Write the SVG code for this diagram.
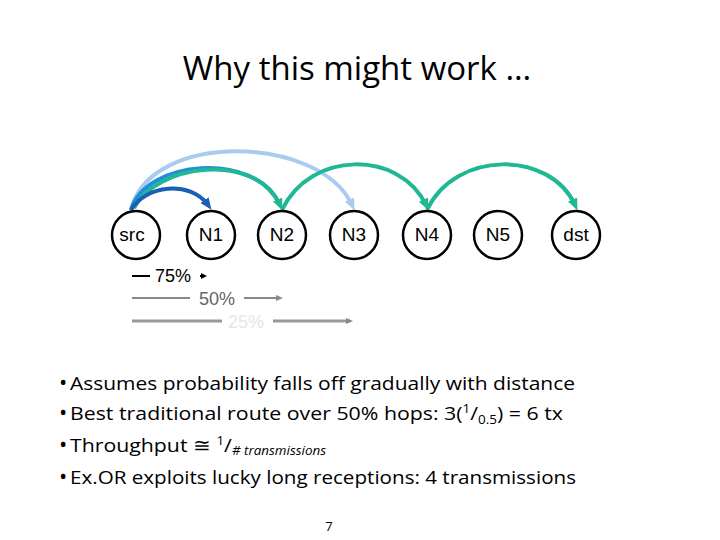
<svg xmlns="http://www.w3.org/2000/svg" width="720" height="540" viewBox="0 0 720 540">
<defs>
<style>
.n{fill:#fff;stroke:#000;stroke-width:2.5}
.nt{font-family:"Liberation Sans",Arial,sans-serif;font-size:19px;text-anchor:middle;fill:#000}
.b{font-family:"Open Sans","Noto Sans",sans-serif;font-size:19px;fill:#000}
.arc{fill:none;stroke-width:4}
</style>
<marker id="mdb" markerUnits="userSpaceOnUse" markerWidth="12" markerHeight="12" refX="6" refY="6" orient="auto"><path d="M0,1L12,6L0,11z" fill="#1a5fb4"/></marker>
<marker id="mlb" markerUnits="userSpaceOnUse" markerWidth="12" markerHeight="12" refX="6" refY="6" orient="auto"><path d="M0,1L12,6L0,11z" fill="#a8cbef"/></marker>
<marker id="mg" markerUnits="userSpaceOnUse" markerWidth="12" markerHeight="12" refX="6" refY="6" orient="auto"><path d="M0,1L12,6L0,11z" fill="#20b894"/></marker>
<marker id="mk" markerUnits="userSpaceOnUse" markerWidth="6" markerHeight="6" refX="3" refY="3" orient="auto"><path d="M0,0L6,3L0,6z" fill="#000"/></marker>
<marker id="mgr" markerUnits="userSpaceOnUse" markerWidth="7" markerHeight="6" refX="4" refY="3" orient="auto"><path d="M0,0L7,3L0,6z" fill="#888"/></marker>
</defs>
<rect width="720" height="540" fill="#fff"/>
<text x="357" y="80" font-family="Open Sans,Noto Sans,sans-serif" font-size="33" text-anchor="middle">Why this might work …</text>
<g id="connectors">
<path class="arc" stroke="#a8cbef" d="M131,210 C150,130 320,135 352,205" marker-end="url(#mlb)"/>
<path class="arc" stroke="#1f8fd6" d="M131,210 C145,160 255,150 280,205"/>
<path class="arc" stroke="#20b894" d="M134,208 C155,165 255,150 280,205" marker-end="url(#mg)"/>
<path class="arc" stroke="#1a5fb4" d="M131,210 C145,185 190,180 208,205" marker-end="url(#mdb)"/>
<path class="arc" stroke="#20b894" d="M282,210 C310,150 400,150 426,205" marker-end="url(#mg)"/>
<path class="arc" stroke="#20b894" d="M427,210 C455,150 550,150 575,205" marker-end="url(#mg)"/>
</g>
<g id="src"><circle class="n" cx="136" cy="235" r="24"/><text class="nt" x="132" y="241">src</text></g>
<g id="N1"><circle class="n" cx="211" cy="235" r="24"/><text class="nt" x="211" y="241">N1</text></g>
<g id="N2"><circle class="n" cx="282" cy="235" r="24"/><text class="nt" x="282" y="241">N2</text></g>
<g id="N3"><circle class="n" cx="354" cy="235" r="24"/><text class="nt" x="354" y="241">N3</text></g>
<g id="N4"><circle class="n" cx="427" cy="235" r="24"/><text class="nt" x="427" y="241">N4</text></g>
<g id="N5"><circle class="n" cx="498" cy="235" r="24"/><text class="nt" x="498" y="241">N5</text></g>
<g id="dst"><circle class="n" cx="576" cy="235" r="24"/><text class="nt" x="576" y="241">dst</text></g>
<g id="legend" font-family="Liberation Sans,Arial,sans-serif" font-size="18">
<line x1="132" y1="276" x2="150" y2="276" stroke="#000" stroke-width="2"/>
<text x="155" y="282">75%</text>
<line x1="200" y1="276" x2="204" y2="276" stroke="#000" stroke-width="2" marker-end="url(#mk)"/>
<line x1="132" y1="298" x2="190" y2="298" stroke="#888" stroke-width="2"/>
<text x="199" y="305" fill="#666">50%</text>
<line x1="244" y1="298" x2="280" y2="298" stroke="#888" stroke-width="2" marker-end="url(#mgr)"/>
<line x1="132" y1="321" x2="222" y2="321" stroke="#999" stroke-width="3"/>
<text x="228" y="328" fill="#e6e6e6">25%</text>
<line x1="273" y1="321" x2="350" y2="321" stroke="#999" stroke-width="3" marker-end="url(#mgr)"/>
</g>
<g id="bullets" class="b">
<text x="59" y="390" font-size="22">•</text><text x="70" y="390" textLength="505" lengthAdjust="spacingAndGlyphs">Assumes probability falls off gradually with distance</text>
<text x="59" y="420" font-size="22">•</text><text x="70" y="420" textLength="493" lengthAdjust="spacingAndGlyphs">Best traditional route over 50% hops: 3(<tspan font-size="12" dy="-7">1</tspan><tspan dy="7">/</tspan><tspan font-size="12" dy="4">0.5</tspan><tspan dy="-4">) = 6 tx</tspan></text>
<text x="59" y="452" font-size="22">•</text><text x="70" y="452" textLength="256" lengthAdjust="spacingAndGlyphs">Throughput ≅ <tspan font-size="12" dy="-7">1</tspan><tspan dy="7">/</tspan><tspan font-size="12" font-style="italic" dy="3"># transmissions</tspan></text>
<text x="59" y="484" font-size="22">•</text><text x="70" y="484" textLength="506" lengthAdjust="spacingAndGlyphs">Ex.OR exploits lucky long receptions: 4 transmissions</text>
</g>
<text x="329" y="531" font-family="Open Sans,sans-serif" font-size="13" text-anchor="middle">7</text>
</svg>
